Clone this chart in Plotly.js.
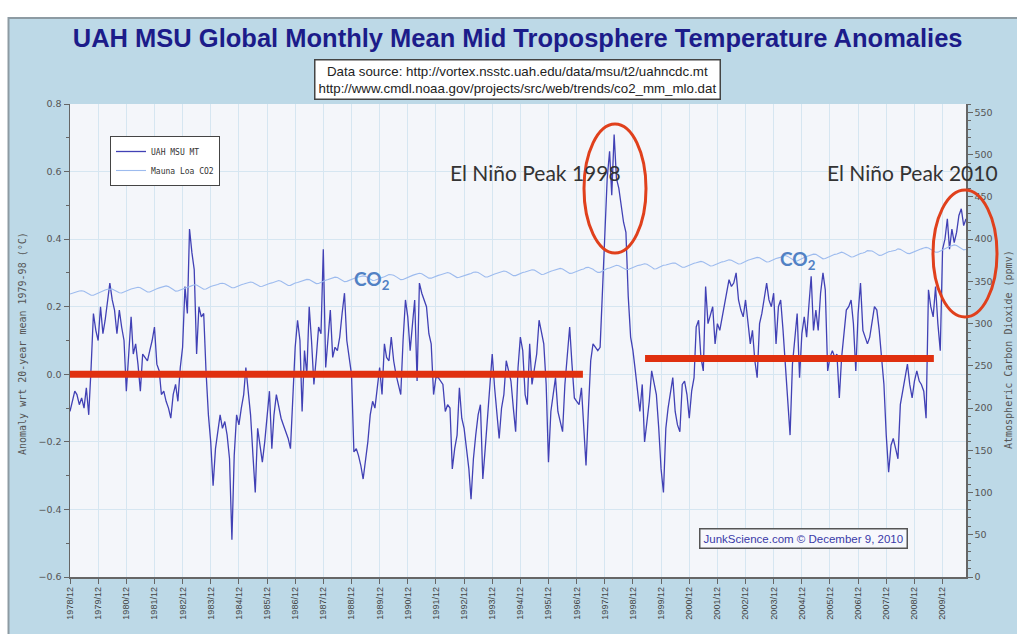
<!DOCTYPE html>
<html>
<head>
<meta charset="utf-8">
<script src="https://cdn.plot.ly/plotly-3.0.1.min.js"></script>
<style>html,body{margin:0;padding:0;background:#fff;}#chart{width:1017px;height:634px;}</style>
</head>
<body>
<div id="chart"></div>
<script>
// UAH MSU MT monthly anomalies (°C), Dec 1978 .. Oct 2010
const uahMT = [
  -0.11,
  -0.08,-0.05,-0.06,-0.09,-0.07,-0.10,-0.04,-0.12,0.02,0.18,0.13,0.10,      // 1979
  0.20,0.12,0.16,0.21,0.27,0.22,0.19,0.12,0.19,0.14,0.10,-0.05,             // 1980
  0.08,0.17,0.06,0.09,0.03,-0.05,0.06,0.05,0.04,0.07,0.10,0.14,             // 1981
  0.03,0.01,-0.06,-0.05,-0.08,-0.10,-0.13,-0.06,-0.03,-0.08,0.02,0.08,      // 1982
  0.26,0.18,0.43,0.36,0.31,0.06,0.20,0.17,0.18,0.01,-0.12,-0.20,            // 1983
  -0.33,-0.22,-0.17,-0.12,-0.16,-0.14,-0.18,-0.25,-0.49,-0.24,-0.12,-0.15,  // 1984
  -0.10,-0.06,0.02,-0.05,-0.12,-0.24,-0.35,-0.16,-0.22,-0.26,-0.20,-0.12,   // 1985
  -0.05,-0.22,-0.12,-0.06,-0.09,-0.13,-0.15,-0.17,-0.19,-0.22,-0.04,0.08,   // 1986
  0.16,0.10,-0.11,0.07,0.00,0.20,0.10,-0.03,0.05,0.14,0.12,0.37,            // 1987
  0.02,0.12,0.19,0.05,0.08,0.07,0.11,0.18,0.24,0.10,0.04,0.00,              // 1988
  -0.23,-0.22,-0.24,-0.27,-0.31,-0.25,-0.20,-0.12,-0.08,-0.10,-0.03,0.02,   // 1989
  -0.06,0.09,0.05,0.04,0.11,0.04,0.00,-0.03,-0.06,0.10,0.22,0.17,           // 1990
  0.07,0.15,0.22,-0.02,0.27,0.24,0.22,0.20,0.12,0.09,-0.06,-0.01,           // 1991
  -0.01,-0.02,-0.03,-0.11,-0.09,-0.10,-0.28,-0.22,-0.18,-0.04,-0.13,-0.16,  // 1992
  -0.22,-0.28,-0.37,-0.25,-0.18,-0.12,-0.09,-0.31,-0.22,-0.12,-0.04,0.06,   // 1993
  -0.04,-0.12,-0.19,-0.10,-0.06,0.04,0.01,-0.02,-0.10,-0.17,0.02,0.11,      // 1994
  0.07,-0.06,-0.09,0.09,-0.03,0.02,0.06,0.16,0.12,0.09,-0.03,-0.26,         // 1995
  -0.11,-0.05,-0.01,-0.11,-0.14,-0.17,-0.03,0.05,0.14,0.03,-0.07,-0.08,     // 1996
  -0.09,-0.04,-0.15,-0.27,-0.11,0.04,0.09,0.08,0.07,0.08,0.25,0.41,         // 1997
  0.58,0.66,0.53,0.71,0.58,0.55,0.50,0.45,0.42,0.23,0.11,0.07,              // 1998
  0.01,-0.06,-0.11,-0.03,-0.20,-0.14,-0.08,0.01,-0.03,-0.06,-0.16,-0.28,    // 1999
  -0.35,-0.16,-0.10,-0.06,-0.01,-0.11,-0.15,-0.17,-0.03,-0.02,-0.06,-0.13,  // 2000
  -0.05,-0.01,0.14,0.16,0.05,0.01,0.26,0.15,0.18,0.20,0.09,0.15,            // 2001
  0.13,0.17,0.21,0.25,0.28,0.26,0.27,0.30,0.22,0.19,0.17,0.22,              // 2002
  0.15,0.09,0.13,0.04,-0.01,0.15,0.18,0.22,0.27,0.22,0.20,0.24,             // 2003
  0.09,0.20,0.22,0.13,0.03,-0.05,-0.18,0.03,0.10,0.18,-0.01,0.12,           // 2004
  0.17,0.11,0.20,0.29,0.13,0.19,0.13,0.24,0.30,0.25,0.01,0.05,              // 2005
  0.07,0.05,0.06,-0.07,0.05,0.13,0.19,0.20,0.22,0.15,0.01,0.18,             // 2006
  0.27,0.13,0.11,0.09,0.11,0.16,0.20,0.19,0.13,0.05,-0.03,-0.18,            // 2007
  -0.29,-0.21,-0.19,-0.22,-0.25,-0.09,-0.05,-0.02,0.03,-0.03,-0.07,-0.02,   // 2008
  0.01,-0.02,-0.03,-0.05,-0.13,0.25,0.20,0.17,0.26,0.15,0.07,0.37,          // 2009
  0.40,0.46,0.37,0.43,0.39,0.42,0.47,0.49,0.44,0.46                         // 2010
];

// Mauna Loa CO2 monthly (ppmv), Dec 1978 .. Oct 2010
const maunaLoaCO2 = [
  335.0,
  336.2,336.9,337.8,338.6,338.9,338.3,336.9,334.9,333.6,333.5,334.9,336.2,
  337.9,338.6,339.9,340.6,341.2,340.9,339.4,337.5,336.6,336.3,337.8,339.0,
  339.9,340.9,341.6,342.7,343.0,342.5,340.9,338.9,337.4,337.5,339.0,340.3,
  341.2,342.3,343.0,344.0,344.6,343.8,342.4,340.3,338.5,338.6,339.9,341.2,
  342.5,343.1,343.8,345.4,346.0,345.7,344.3,342.5,340.7,340.9,342.6,344.0,
  344.8,345.3,346.2,347.4,347.8,347.2,345.8,344.0,342.4,342.5,343.9,345.3,
  346.1,346.8,347.7,348.7,349.3,348.6,347.0,345.2,343.9,344.2,345.6,346.6,
  347.4,348.2,348.9,350.4,351.0,350.2,348.6,346.6,345.2,345.3,346.8,348.1,
  348.7,349.6,350.3,351.6,352.3,352.1,350.6,348.8,347.4,347.5,349.0,350.3,
  351.4,352.2,353.0,354.5,355.0,354.5,352.9,350.9,349.7,350.0,351.3,352.6,
  353.5,354.5,355.2,356.0,356.5,355.9,354.5,352.5,351.0,351.4,352.7,354.0,
  354.6,355.6,357.0,358.0,357.8,357.2,355.6,353.5,352.1,352.2,353.6,354.9,
  355.9,357.1,358.0,359.1,359.6,359.0,357.4,355.3,353.8,353.8,355.2,356.5,
  357.1,357.9,358.9,359.8,360.4,359.5,357.9,355.9,354.5,354.8,355.9,357.2,
  358.0,358.6,359.3,360.9,361.0,360.5,358.9,356.8,355.1,355.1,356.5,357.8,
  358.7,359.6,360.6,361.6,362.2,361.8,360.3,358.4,356.8,356.8,358.2,359.4,
  360.4,361.2,362.0,363.2,363.8,363.3,361.7,359.5,358.1,358.4,359.8,361.2,
  362.0,362.8,363.6,364.7,365.4,364.6,363.1,361.1,359.5,359.6,360.8,362.3,
  363.2,364.0,364.6,366.3,366.6,365.6,364.3,362.2,360.6,360.7,362.4,364.0,
  365.2,365.9,367.0,368.4,369.0,368.6,367.2,365.4,364.0,364.1,365.5,366.8,
  367.9,368.7,369.2,370.5,370.8,370.2,369.0,366.9,364.6,365.0,366.5,367.8,
  369.0,369.4,370.0,371.5,371.8,371.6,370.0,368.0,366.7,366.8,368.2,369.5,
  370.3,371.5,372.0,373.2,373.7,373.0,371.5,369.6,368.2,368.4,369.7,371.1,
  372.4,373.1,373.5,374.9,375.5,375.0,373.6,371.8,370.6,370.9,372.5,373.9,
  375.0,375.8,376.5,377.7,378.4,377.9,376.3,374.4,373.0,373.3,374.8,376.2,
  377.1,377.8,378.5,380.4,380.7,379.6,377.9,376.0,374.2,374.2,375.9,377.4,
  378.4,379.5,380.5,382.0,382.2,382.0,380.4,378.3,376.7,377.0,378.4,380.0,
  381.3,382.0,382.4,384.0,384.6,383.7,382.3,380.5,378.9,379.1,380.6,382.1,
  383.0,383.7,384.4,386.4,386.4,385.9,384.3,382.3,380.8,380.9,382.4,383.7,
  385.1,385.6,385.8,386.9,388.5,387.9,386.4,384.2,383.1,382.9,384.2,385.6,
  386.9,387.4,388.5,389.5,390.2,389.5,388.0,385.8,384.5,384.6,386.1,387.4,
  388.5,390.2,391.3,392.3,393.2,392.4,390.6,388.6,387.3,387.8
];

// Year tick labels
const tickYears = [];
for (let y = 1978; y <= 2009; y++) tickYears.push(y);
const tickVals = tickYears.map(y => y + '-12-01');
const tickText = tickYears.map(y => y + '/12');

// Month dates (x categories)
const months = [];
for (let m = 0; m < uahMT.length; m++) {
  const d = new Date(Date.UTC(1978, 11 + m, 1));
  months.push(d.getUTCFullYear() + '-' + String(d.getUTCMonth() + 1).padStart(2, '0') + '-01');
}

const traces = [
  {
    x: months, y: uahMT, type: 'scatter', mode: 'lines', name: 'UAH MSU MT',
    line: {color: '#4141b5', width: 1.3}, yaxis: 'y'
  },
  {
    x: months, y: maunaLoaCO2, type: 'scatter', mode: 'lines', name: 'Mauna Loa CO2',
    line: {color: '#9dbbee', width: 1.1}, yaxis: 'y2'
  }
];

// plot area: left 70, right 966, top 104, bottom 577
const L = 70, R = 966, T = 104, B = 577;
const px = v => (v - L) / (R - L);
const py = v => (B - v) / (B - T);

const tickFont = {family: 'DejaVu Sans, sans-serif', size: 9.5, color: '#555'};

const layout = {
  width: 1017, height: 634,
  margin: {l: L, r: 1017 - R, t: T, b: 634 - B},
  paper_bgcolor: '#bdd9e7',
  plot_bgcolor: '#f4f6fa',
  showlegend: true,
  title: {
    text: '<b>UAH MSU Global Monthly Mean Mid Troposphere Temperature Anomalies</b>',
    font: {family: 'Liberation Sans, Arial, sans-serif', size: 25.5, color: '#1c1c8a'},
    x: 0.509, xanchor: 'center', y: 1 - 38 / 634, yanchor: 'middle'
  },
  legend: {
    x: px(110), y: py(136), xanchor: 'left', yanchor: 'top',
    bgcolor: '#ffffff', bordercolor: '#444', borderwidth: 1,
    font: {family: 'DejaVu Sans Mono, monospace', size: 8, color: '#333'},
    tracegroupgap: 0
  },
  xaxis: {
    type: 'date',
    range: ['1978-12-01', '2010-10-01'],
    tickmode: 'array', tickvals: tickVals, ticktext: tickText,
    tickangle: -90, tickfont: {family: 'Liberation Sans, sans-serif', size: 9, color: '#444'},
    ticks: 'outside', ticklen: 5, tickcolor: '#666',
    showgrid: true, gridcolor: '#d6e6f1', gridwidth: 1,
    showline: true, linecolor: '#666', linewidth: 1.5,
    zeroline: false
  },
  yaxis: {
    range: [-0.6, 0.8], dtick: 0.2, tick0: 0, tickformat: '.1f',
    tickfont: tickFont,
    ticks: 'outside', ticklen: 5, tickcolor: '#666',
    minor: {dtick: 0.1, ticks: 'outside', ticklen: 3, tickcolor: '#666', showgrid: false},
    showgrid: true, gridcolor: '#d6e6f1', gridwidth: 1,
    showline: true, linecolor: '#666', linewidth: 1.5,
    zeroline: false
  },
  yaxis2: {
    overlaying: 'y', side: 'right',
    range: [0, 560], dtick: 50, tick0: 0,
    tickfont: tickFont,
    ticks: 'outside', ticklen: 5, tickcolor: '#666',
    minor: {dtick: 10, ticks: 'outside', ticklen: 3, tickcolor: '#666', showgrid: false},
    showgrid: false,
    showline: true, linecolor: '#666', linewidth: 1.5,
    zeroline: false
  },
  shapes: [
    // white surround and frame border
    {type: 'rect', xref: 'paper', yref: 'paper', x0: px(-5), x1: px(1030), y0: py(17), y1: py(-5),
     fillcolor: '#ffffff', line: {width: 0}, layer: 'below'},
    {type: 'rect', xref: 'paper', yref: 'paper', x0: px(-5), x1: px(8), y0: py(640), y1: py(-5),
     fillcolor: '#ffffff', line: {width: 0}, layer: 'below'},
    {type: 'path', xref: 'paper', yref: 'paper',
     path: 'M ' + px(8.5) + ' ' + py(640) + ' L ' + px(8.5) + ' ' + py(18) + ' L ' + px(1030) + ' ' + py(18),
     line: {color: '#8d9ba3', width: 2}, layer: 'below'},
    // red baseline markers
    {type: 'line', xref: 'x', yref: 'y', x0: '1978-12-01', x1: '1997-02-20', y0: 0.0, y1: 0.0,
     line: {color: '#e0300f', width: 7}, layer: 'above'},
    {type: 'line', xref: 'x', yref: 'y', x0: '1999-05-07', x1: '2009-08-10', y0: 0.047, y1: 0.047,
     line: {color: '#e0300f', width: 7}, layer: 'above'},
    // ellipses
    {type: 'circle', xref: 'paper', yref: 'paper', x0: px(584), x1: px(646), y0: py(253), y1: py(124),
     line: {color: '#e0401c', width: 3}, layer: 'above'},
    {type: 'circle', xref: 'paper', yref: 'paper', x0: px(933), x1: px(997), y0: py(317), y1: py(190),
     line: {color: '#e0401c', width: 3}, layer: 'above'}
  ],
  annotations: [
    {xref: 'paper', yref: 'paper', x: px(517), y: py(79), xanchor: 'center', yanchor: 'middle',
     text: 'Data source: http://vortex.nsstc.uah.edu/data/msu/t2/uahncdc.mt<br>http://www.cmdl.noaa.gov/projects/src/web/trends/co2_mm_mlo.dat',
     showarrow: false, align: 'center',
     font: {family: 'Liberation Sans, Arial, sans-serif', size: 13.3, color: '#222'},
     bgcolor: '#ffffff', bordercolor: '#444', borderwidth: 1.5, borderpad: 3},
    {xref: 'paper', yref: 'paper', x: px(803), y: py(538), xanchor: 'center', yanchor: 'middle',
     text: 'JunkScience.com © December 9, 2010', showarrow: false,
     font: {family: 'Liberation Sans, Arial, sans-serif', size: 11.5, color: '#3a3aa8'},
     bgcolor: '#f7f8fc', bordercolor: '#555', borderwidth: 1.5, borderpad: 3},
    {xref: 'paper', yref: 'paper', x: px(535), y: py(172), xanchor: 'center', yanchor: 'middle',
     text: 'El Niño Peak 1998', showarrow: false,
     font: {family: 'Lato, Open Sans, sans-serif', size: 21, color: '#333'}},
    {xref: 'paper', yref: 'paper', x: px(912), y: py(172), xanchor: 'center', yanchor: 'middle',
     text: 'El Niño Peak 2010', showarrow: false,
     font: {family: 'Lato, Open Sans, sans-serif', size: 21, color: '#333'}},
    {xref: 'paper', yref: 'paper', x: px(372), y: py(280), xanchor: 'center', yanchor: 'middle',
     text: '<b>CO<sub>2</sub></b>', showarrow: false,
     font: {family: 'Lato, Open Sans, sans-serif', size: 19, color: '#5181c4'}},
    {xref: 'paper', yref: 'paper', x: px(798), y: py(260), xanchor: 'center', yanchor: 'middle',
     text: '<b>CO<sub>2</sub></b>', showarrow: false,
     font: {family: 'Lato, Open Sans, sans-serif', size: 19, color: '#5181c4'}},
    {xref: 'paper', yref: 'paper', x: px(22), y: py(344), xanchor: 'center', yanchor: 'middle',
     text: 'Anomaly wrt 20-year mean 1979-98 (°C)', showarrow: false, textangle: -90,
     font: {family: 'DejaVu Sans Mono, monospace', size: 10, color: '#555'}},
    {xref: 'paper', yref: 'paper', x: px(1008), y: py(350), xanchor: 'center', yanchor: 'middle',
     text: 'Atmospheric Carbon Dioxide (ppmv)', showarrow: false, textangle: -90,
     font: {family: 'DejaVu Sans Mono, monospace', size: 10, color: '#555'}}
  ]
};

Plotly.newPlot('chart', traces, layout, {staticPlot: true, displayModeBar: false});
</script>
</body>
</html>
